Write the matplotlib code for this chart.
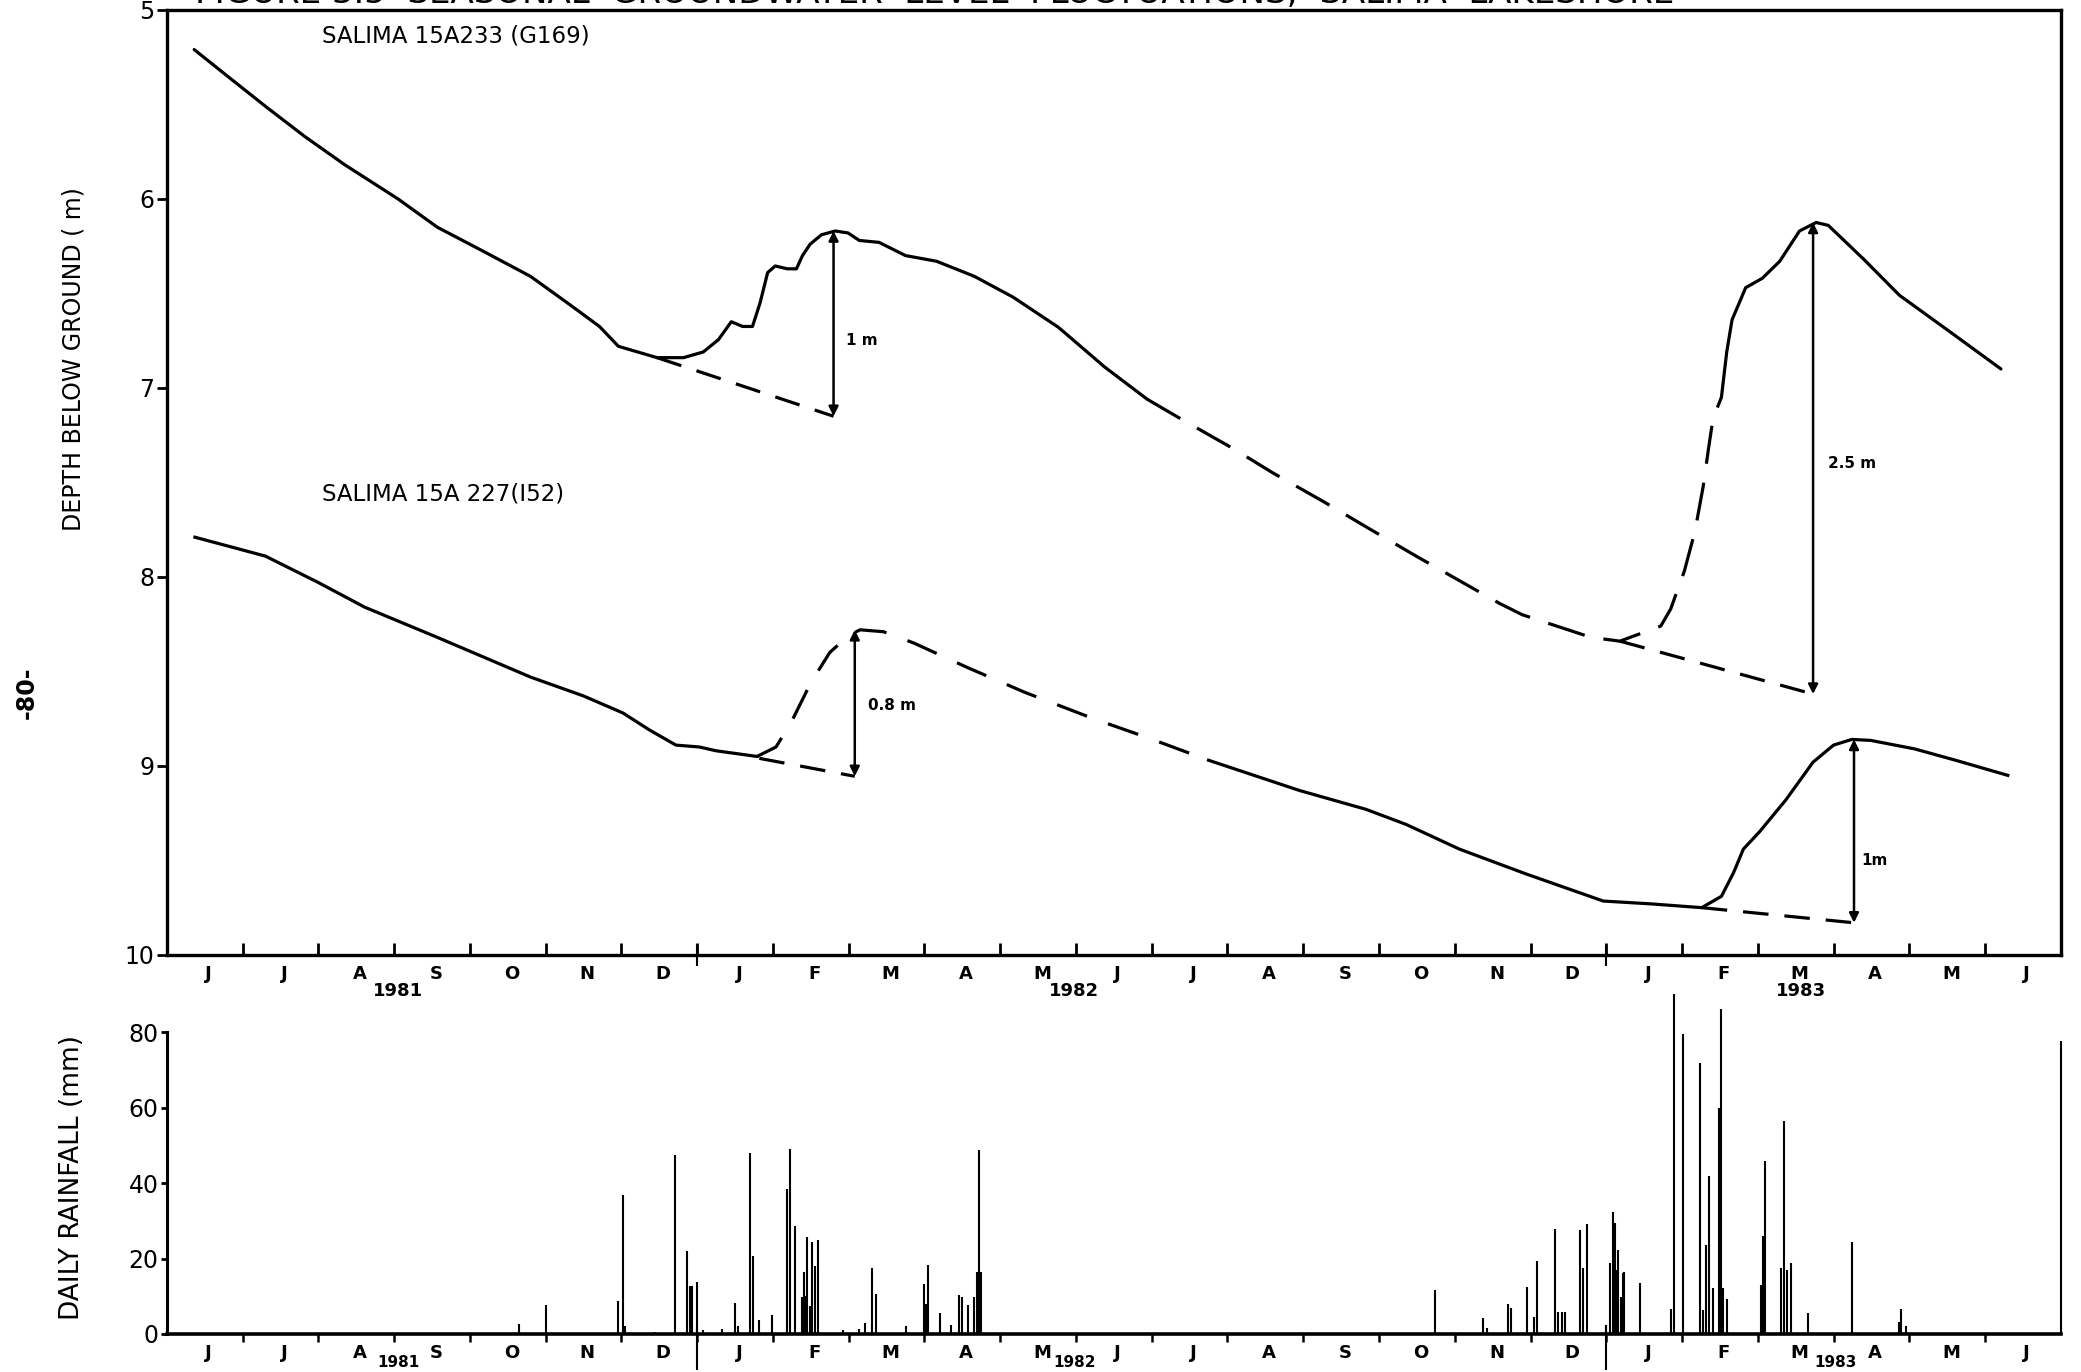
import matplotlib
matplotlib.use("Agg")
import matplotlib.pyplot as plt

plt.rcParams['font.family'] = ['DejaVu Sans']

# time axis: months since 1 June 1981
month_labels = ['J', 'J', 'A', 'S', 'O', 'N', 'D', 'J', 'F', 'M', 'A', 'M', 'J',
                'J', 'A', 'S', 'O', 'N', 'D', 'J', 'F', 'M', 'A', 'M', 'J']
year_labels = ['1981', '1982', '1983']
year_pos = [3.05, 11.98, 21.57]
year_pos_rain = [3.05, 11.98, 22.02]
year_starts = [7, 19]

# SALIMA 15A233 (G169) - depth below ground (m)
g169_t1 = [0.36, 0.86, 1.30, 1.82, 2.35, 3.05, 3.57, 4.19, 4.80, 5.32, 5.71, 5.96,
           6.47, 6.82, 7.08, 7.28, 7.45, 7.60, 7.73, 7.83, 7.93, 8.03, 8.19, 8.31,
           8.39, 8.49, 8.64, 8.82, 8.99, 9.14, 9.40, 9.75, 10.16, 10.66, 11.17,
           11.77, 12.38, 12.94]
g169_d1 = [5.21, 5.37, 5.51, 5.67, 5.82, 6.00, 6.15, 6.28, 6.41, 6.56, 6.675, 6.78,
           6.84, 6.84, 6.81, 6.745, 6.65, 6.675, 6.675, 6.55, 6.39, 6.355, 6.37, 6.37,
           6.30, 6.24, 6.19, 6.17, 6.18, 6.22, 6.23, 6.30, 6.33, 6.41, 6.52,
           6.68, 6.89, 7.06]
g169_t2 = [12.94, 13.41, 14.07, 14.60, 15.26, 15.85, 16.49, 17.15, 17.59, 17.89,
           18.42, 18.80, 19.18, 19.72, 19.85, 20.03, 20.17, 20.28, 20.35, 20.41, 20.52]
g169_d2 = [7.06, 7.17, 7.32, 7.45, 7.60, 7.74, 7.89, 8.04, 8.14, 8.20,
           8.27, 8.32, 8.34, 8.26, 8.17, 7.97, 7.76, 7.52, 7.32, 7.16, 7.05]
g169_t3 = [20.52, 20.59, 20.66, 20.84, 21.06, 21.29, 21.55, 21.77, 21.93, 22.40,
           22.87, 23.56, 24.21]
g169_d3 = [7.05, 6.81, 6.64, 6.47, 6.42, 6.33, 6.17, 6.125, 6.14, 6.32,
           6.51, 6.71, 6.90]

# SALIMA 15A 227 (I52)
i52_t1 = [0.37, 1.30, 2.00, 2.61, 3.57, 4.80, 5.50, 6.02, 6.37, 6.72, 7.03, 7.25, 7.79]
i52_d1 = [7.79, 7.89, 8.03, 8.16, 8.32, 8.53, 8.63, 8.72, 8.81, 8.89, 8.90, 8.92, 8.95]
i52_t2 = [7.79, 8.04, 8.24, 8.50, 8.75, 9.00, 9.15, 9.46, 9.86, 10.57, 11.32, 12.23,
          12.94, 13.75]
i52_d2 = [8.95, 8.90, 8.77, 8.56, 8.40, 8.31, 8.28, 8.29, 8.35, 8.48, 8.61, 8.75,
          8.85, 8.97]
i52_t3 = [13.75, 14.95, 15.83, 16.36, 17.06, 17.93, 18.96, 19.59, 20.26, 20.52, 20.68,
          20.81, 21.02, 21.37, 21.73, 22.00, 22.24, 22.49, 23.07, 23.61, 24.30]
i52_d3 = [8.97, 9.13, 9.23, 9.31, 9.44, 9.57, 9.715, 9.73, 9.75, 9.69, 9.565,
          9.44, 9.35, 9.18, 8.98, 8.89, 8.86, 8.865, 8.91, 8.97, 9.05]

# recharge: baseline (start, end) and rise arrows
base_t = [[6.47, 8.80], [19.18, 21.73], [7.82, 9.08], [20.26, 22.27]]
base_d = [[6.84, 7.15], [8.34, 8.62], [8.96, 9.055], [9.75, 9.83]]
rise_t = [8.80, 21.73, 9.08, 22.27]
rise_top = [6.17, 6.125, 8.28, 8.86]
rise_bot = [7.15, 8.62, 9.055, 9.83]
rise_txt = ['1 m', '2.5 m', '0.8 m', '1m']
rise_txt_t = [8.97, 21.93, 9.25, 22.36]
rise_txt_d = [6.75, 7.40, 8.68, 9.50]

# daily rainfall (mm)
rain_t = [4.65, 5.00, 5.96, 6.02, 6.05, 6.44, 6.71, 6.86, 6.90, 6.93, 7.00, 7.08,
          7.33, 7.50, 7.54, 7.70, 7.74, 7.82, 7.99, 8.18, 8.22, 8.29, 8.39, 8.41,
          8.43, 8.45, 8.49, 8.52, 8.56, 8.60, 8.92, 9.13, 9.21, 9.31, 9.36, 9.76,
          9.99, 10.02, 10.05, 10.20, 10.35, 10.45, 10.49, 10.58, 10.66, 10.69, 10.71,
          10.72, 10.75,
          16.74, 17.37, 17.42, 17.70, 17.74, 17.95, 18.04, 18.08, 18.32, 18.36, 18.41,
          18.46, 18.65, 18.69, 18.74, 18.99, 19.05, 19.09, 19.12, 19.14, 19.16, 19.20,
          19.22, 19.24, 19.45, 19.86, 19.90, 20.01, 20.24, 20.28, 20.32, 20.36, 20.41,
          20.49, 20.51, 20.54, 20.60, 21.04, 21.07, 21.10, 21.31, 21.34, 21.38, 21.44,
          21.66, 22.25, 22.86, 22.89, 22.95, 25.00]
rain_mm = [2.7, 7.7, 8.8, 36.9, 2.0, 0.5, 47.5, 21.9, 12.8, 12.8, 13.9, 1.0,
           1.3, 8.2, 2.0, 48.0, 20.6, 3.8, 5.0, 38.3, 49.1, 28.6, 9.7, 16.4,
           10.0, 25.7, 7.5, 24.5, 18.1, 25.0, 1.0, 1.3, 2.9, 17.4, 10.6, 2.2,
           13.3, 8.0, 18.3, 5.6, 2.4, 10.2, 9.7, 7.7, 9.9, 16.5, 13.7,
           48.7, 16.5,
           11.7, 4.2, 1.5, 8.0, 6.8, 12.4, 4.6, 19.4, 27.8, 5.9, 5.7,
           5.9, 27.6, 17.4, 29.2, 2.4, 18.8, 32.2, 29.4, 17.0, 22.3, 9.9,
           16.1, 16.3, 13.6, 6.5, 90.0, 79.4, 71.9, 6.4, 23.6, 41.8, 12.1,
           59.9, 86.0, 12.1, 9.2, 13.0, 26.0, 45.8, 17.4, 56.4, 17.0, 18.8,
           5.5, 24.5, 3.3, 6.5, 2.0, 77.6]

n_months = len(month_labels)
mid = [i + 0.55 for i in range(n_months)]
bounds = list(range(1, n_months))

fig = plt.figure(figsize=(20.81, 13.72), dpi=100)
ax2 = fig.add_axes([0.0802, 0.0277, 0.9101, 0.2531])
ax = fig.add_axes([0.0802, 0.3040, 0.9101, 0.6888])
ax2.set_facecolor('none')
ax.set_facecolor('none')

lw = 2.3
# groundwater hydrographs
ax.plot(g169_t1, g169_d1, color='black', lw=lw, solid_capstyle='round')
ax.plot(g169_t2, g169_d2, color='black', lw=lw, dashes=(12, 6))
ax.plot(g169_t3, g169_d3, color='black', lw=lw, solid_capstyle='round')
ax.plot(i52_t1, i52_d1, color='black', lw=lw)
ax.plot(i52_t2, i52_d2, color='black', lw=lw, dashes=(10, 7))
ax.plot(i52_t3, i52_d3, color='black', lw=lw)

for bt, bd in zip(base_t, base_d):
    ax.plot(bt, bd, color='black', lw=lw, dashes=(8, 5))
for t, d0, d1, s, tx, ty in zip(rise_t, rise_top, rise_bot, rise_txt, rise_txt_t, rise_txt_d):
    ax.annotate('', xy=(t, d0), xytext=(t, d1),
                arrowprops=dict(arrowstyle='<|-|>', color='black', lw=1.8,
                                mutation_scale=14, shrinkA=0, shrinkB=0))
    ax.text(tx, ty, s, fontsize=11, fontweight='bold', va='center', ha='left')

ax.text(2.05, 5.14, 'SALIMA 15A233 (G169)', fontsize=16.5, va='center')
ax.text(2.05, 7.56, 'SALIMA 15A 227(I52)', fontsize=16.5, va='center')

ax.set_xlim(0, n_months)
ax.set_ylim(10, 5)
ax.set_yticks([5, 6, 7, 8, 9, 10])
ax.set_yticklabels(['5', '6', '7', '8', '9', '10'], fontsize=17)
ax.tick_params(axis='y', direction='out', length=7, width=2, pad=2)
ax.set_xticks(bounds)
ax.set_xticklabels([])
ax.tick_params(axis='x', which='major', direction='in', length=9, width=2)
ax.set_xticks(mid, minor=True)
ax.set_xticklabels(month_labels, minor=True, fontsize=13, fontweight='bold')
ax.tick_params(axis='x', which='minor', length=0, pad=7)
ax.vlines(year_starts, 9.95, 10.06, color='black', lw=1.5, clip_on=False)
for p, y in zip(year_pos, year_labels):
    ax.text(p, -0.038, y, transform=ax.get_xaxis_transform(), fontsize=13,
            fontweight='bold', ha='center', va='center')
for s in ax.spines.values():
    s.set_linewidth(2.4)
ax.set_ylabel('DEPTH BELOW GROUND ( m)', fontsize=17)
ax.yaxis.set_label_coords(-0.043, 0.63)

# daily rainfall
ax2.vlines(rain_t, 0, rain_mm, color='black', lw=1.5, clip_on=False)
ax2.set_xlim(0, n_months)
ax2.set_ylim(0, 92)
ax2.spines['top'].set_visible(False)
ax2.spines['right'].set_visible(False)
ax2.spines['left'].set_bounds(0, 80)
ax2.spines['left'].set_linewidth(2.2)
ax2.spines['bottom'].set_linewidth(2.6)
ax2.set_yticks([0, 20, 40, 60, 80])
ax2.set_yticklabels(['0', '20', '40', '60', '80'], fontsize=17)
ax2.tick_params(axis='y', direction='out', length=4, width=2, pad=2)
ax2.set_xticks(bounds)
ax2.set_xticklabels([])
ax2.tick_params(axis='x', which='major', direction='out', length=6, width=1.8)
ax2.set_xticks(mid, minor=True)
ax2.set_xticklabels(month_labels, minor=True, fontsize=13, fontweight='bold')
ax2.tick_params(axis='x', which='minor', length=0, pad=7)
ax2.vlines(year_starts, -9.5, 2.0, color='black', lw=1.5, clip_on=False)
for p, y in zip(year_pos_rain, year_labels):
    ax2.text(p, -0.083, y, transform=ax2.get_xaxis_transform(), fontsize=11,
             fontweight='bold', ha='center', va='center')
ax2.set_ylabel('DAILY RAINFALL (mm)', fontsize=19)
ax2.yaxis.set_label_coords(-0.043, 0.45)

fig.text(0.449, 1 - 3 / 1372, 'FIGURE 3.5  SEASONAL  GROUNDWATER  LEVEL  FLUCTUATIONS;  SALIMA  LAKESHORE',
         ha='center', va='baseline', fontsize=24.5)
fig.text(0.013, 0.495, '-80-', rotation=90, fontsize=17, fontweight='bold',
         ha='center', va='center')

fig.savefig('out.png', dpi=100)
